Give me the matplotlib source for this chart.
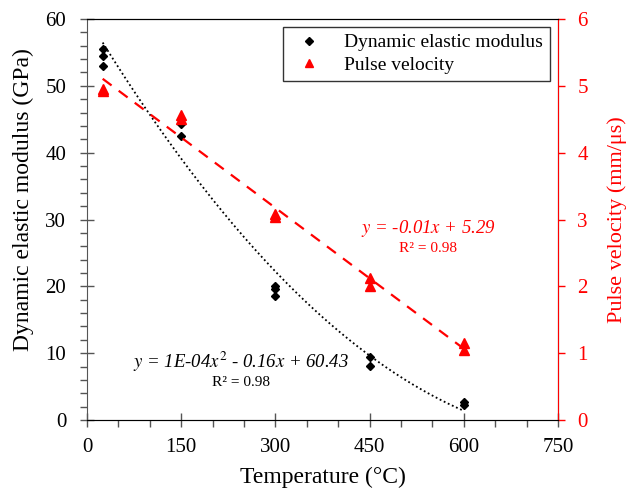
import numpy as np
import matplotlib.pyplot as plt
from matplotlib.ticker import MultipleLocator

plt.rcParams['font.family'] = ['Liberation Serif', 'DejaVu Serif']
plt.rcParams['mathtext.fontset'] = 'stix'

# temperatures for each measured sample
temp_mod = [25, 25, 25, 150, 150, 150, 300, 300, 300, 450, 450, 600, 600]
modulus = [55.5, 54.5, 53.0, 45.0, 44.3, 42.5, 20.0, 19.6, 18.6, 9.4, 8.1, 2.7, 2.3]

temp_vel = [25, 25, 150, 150, 300, 300, 450, 450, 600, 600]
velocity = [4.95, 4.93, 4.57, 4.50, 3.08, 3.04, 2.12, 2.00, 1.15, 1.05]

# trend lines (Excel style)
c_mod = np.polyfit(temp_mod, modulus, 2)
c_vel = np.polyfit(temp_vel, velocity, 1)
xt = np.linspace(25, 600, 200)

fig = plt.figure(figsize=(6.28, 4.92), dpi=100)
ax = fig.add_axes([0.1385, 0.1463, 0.75, 0.8151])
ax2 = ax.twinx()

ax.plot(xt, np.polyval(c_mod, xt), color='black', linestyle=(0, (1, 1.5)), lw=1.3)
ax2.plot(xt, np.polyval(c_vel, xt), color='#ff0000', linestyle=(0, (5, 4)), lw=1.6)

h1, = ax.plot(temp_mod, modulus, 'D', color='black', ms=4.5, linestyle='none',
              label='Dynamic elastic modulus')
h2, = ax2.plot(temp_vel, velocity, '^', color='#ff0000', ms=7, linestyle='none',
               label='Pulse velocity')

ax.set_xlim(0, 750)
ax.set_ylim(0, 60)
ax2.set_ylim(0, 6)

ax.xaxis.set_major_locator(MultipleLocator(150))
ax.xaxis.set_minor_locator(MultipleLocator(50))
ax.yaxis.set_major_locator(MultipleLocator(10))
ax.yaxis.set_minor_locator(MultipleLocator(2))
ax2.yaxis.set_major_locator(MultipleLocator(1))

ax.tick_params(axis='both', which='major', direction='inout', length=10, width=1,
               labelsize=15, color='#555555')
ax.tick_params(axis='x', which='major', pad=8)
ax.tick_params(axis='y', which='major', pad=10)
ax.tick_params(axis='both', which='minor', direction='out', length=5, width=1,
               color='#555555')
ax.tick_params(axis='x', which='both', top=False)
ax.tick_params(axis='y', which='both', right=False)
ax2.tick_params(axis='y', which='major', direction='out', length=5, width=1,
                labelsize=15, colors='#ff0000', pad=9)

for s in ['left', 'bottom']:
    ax.spines[s].set_color('#555555')
ax.spines['top'].set_color('black')
ax2.spines['right'].set_color('#ff0000')
ax2.spines['left'].set_visible(False)
ax2.spines['top'].set_color('black')

ax.set_xlabel('Temperature (°C)', fontsize=17, labelpad=7)
ax.set_ylabel('Dynamic elastic modulus (GPa)', fontsize=17)
ax.yaxis.set_label_coords(-0.112, 0.549)
ax2.set_ylabel('Pulse velocity (mm/μs)', fontsize=16, color='#ff0000', labelpad=14)

ax.text(246, 8.7, r'$y$ = 1E-04$x^2$ - 0.16$x$ + 60.43', fontsize=13.5, style='italic',
        ha='center', va='center')
ax.text(246, 5.6, 'R² = 0.98', fontsize=11, ha='center', va='center')
ax2.text(543, 2.86, r'$y$ = -0.01$x$ + 5.29', fontsize=13.5, style='italic',
         color='#ff0000', ha='center', va='center')
ax2.text(543, 2.57, 'R² = 0.98', fontsize=11, color='#ff0000', ha='center', va='center')

leg = ax2.legend(handles=[h1, h2], loc='upper right', bbox_to_anchor=(0.983, 0.980),
                 borderaxespad=0, fontsize=14, frameon=True, fancybox=False,
                 edgecolor='black', handletextpad=0.8, borderpad=0.35,
                 labelspacing=0.25, markerscale=0.8)
leg.get_frame().set_linewidth(1)

fig.savefig('out.png', dpi=100)
